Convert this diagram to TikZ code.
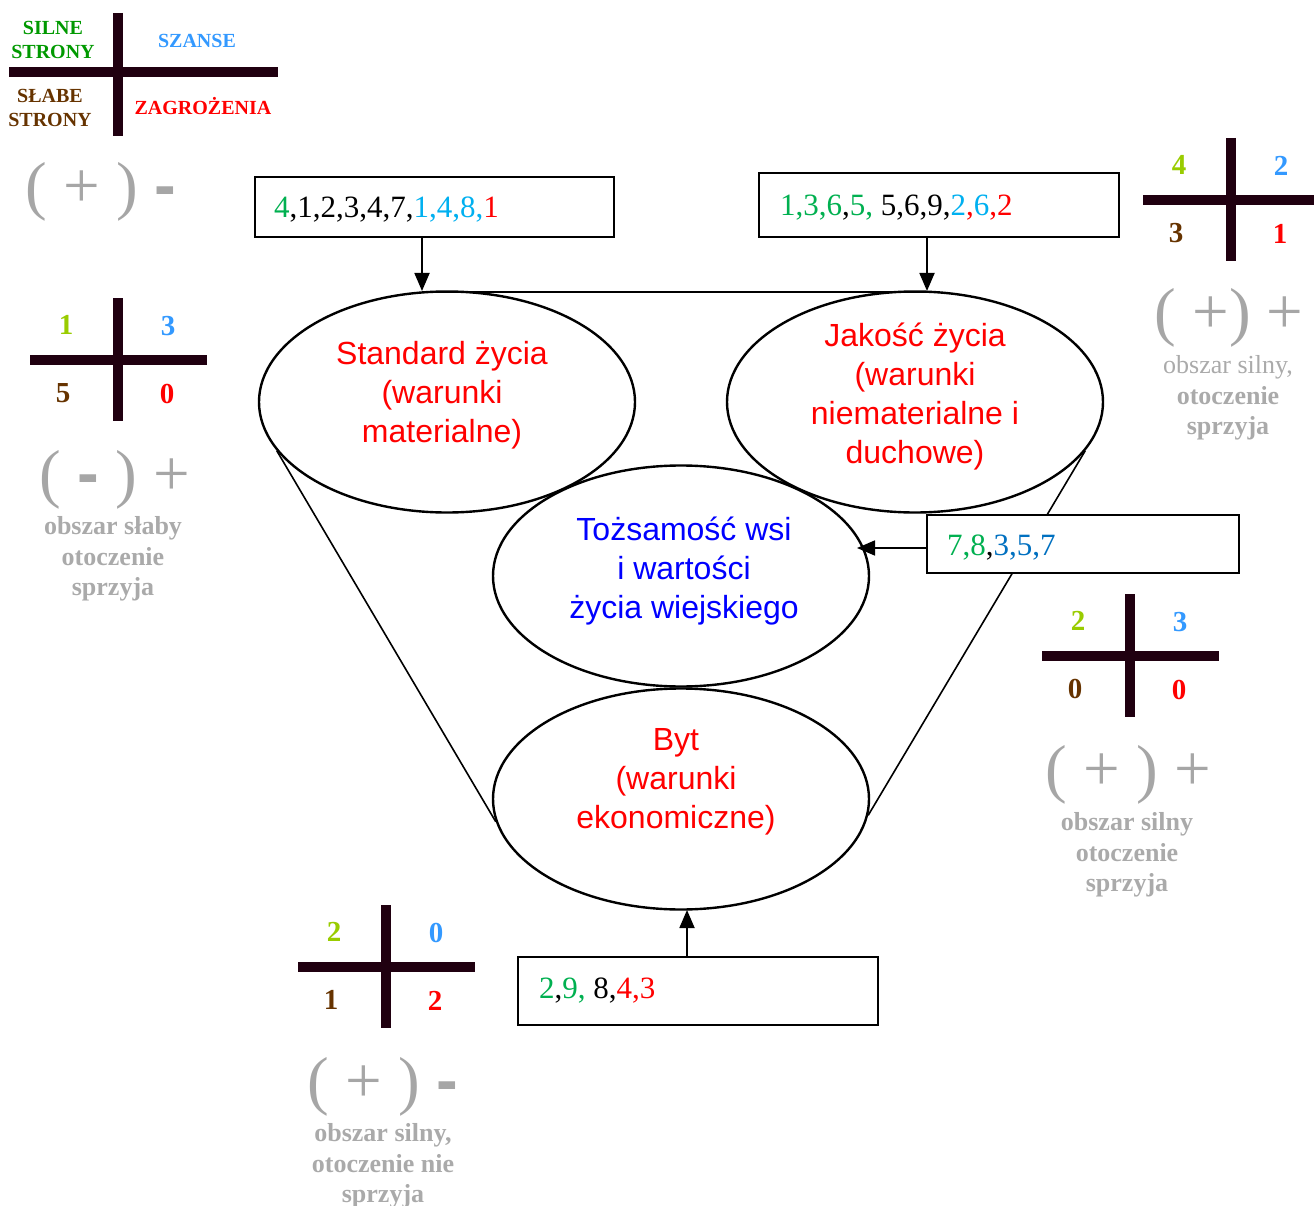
\documentclass[tikz,border=0pt]{standalone}
\usepackage{fontspec}
\setmainfont{Liberation Serif}
\newfontfamily\arialf{Liberation Sans}
\usetikzlibrary{shapes.geometric,arrows.meta,calc}

\definecolor{crossc}{RGB}{32,0,16}
\definecolor{lgreen}{RGB}{0,153,0}
\definecolor{sblue}{RGB}{51,153,255}
\definecolor{brownc}{RGB}{102,51,0}
\definecolor{ygreen}{RGB}{153,204,0}
\definecolor{numgreen}{RGB}{0,176,80}
\definecolor{numcyan}{RGB}{0,176,240}
\definecolor{numblue}{RGB}{0,112,192}
\definecolor{grayc}{RGB}{166,166,166}
\definecolor{graytxt}{RGB}{170,170,170}
\definecolor{ellred}{RGB}{255,0,0}
\definecolor{ellblue}{RGB}{0,0,255}

\tikzset{
  ell/.style={draw, ellipse, line width=2.4pt, minimum width=376pt, minimum height=221pt, inner sep=0pt},
  elltext/.style={align=center, inner sep=0pt, font=\arialf\fontsize{32}{39}\selectfont},
  numbox/.style={draw, line width=1.6pt, fill=white, inner sep=0pt},
  boxtext/.style={anchor=base west, inner sep=0pt, font=\fontsize{31}{31}\selectfont},
  arr/.style={line width=1.8pt, -{Triangle[length=18pt,width=15pt]}},
  funnel/.style={line width=1.6pt},
  crossline/.style={line width=10pt, draw=crossc},
  swnum/.style={inner sep=0pt, font=\fontsize{29}{29}\selectfont\bfseries},
  legtext/.style={inner sep=0pt, align=center, font=\fontsize{20}{24}\selectfont\bfseries},
  paren/.style={inner sep=0pt, text=grayc, font=\fontsize{65}{65}\selectfont},
  areatext/.style={inner sep=0pt, align=center, text=graytxt, font=\fontsize{26}{30.5}\selectfont}
}

\newcommand\swotcross[6]{%
  \coordinate (#1) at #2;
  \draw[crossline] (#1) ++(-88,0) -- ++(177,0);
  \draw[crossline] (#1) ++(0,-62) -- ++(0,123);
  \path (#1) ++(-52,-35) node[swnum, text=ygreen] (#1a) {#3};
  \path (#1) ++(50,-34) node[swnum, text=sblue] (#1b) {#4};
  \path (#1) ++(-55,33) node[swnum, text=brownc] (#1c) {#5};
  \path (#1) ++(49,34) node[swnum, text=red] (#1d) {#6};
}
\newcommand\minusmark{{\arialf\bfseries -}}

\begin{document}
\begin{tikzpicture}[x=1pt, y=-1pt]
\useasboundingbox (0,0) rectangle (1314,1206);

% legend cross
\draw[crossline] (9,72) -- (278,72);
\draw[crossline] (118,13) -- (118,136);
\node[legtext, text=lgreen] (legS) at (53,40) {SILNE\\STRONY};
\node[legtext, text=sblue] (legO) at (197,41) {SZANSE};
\node[legtext, text=brownc] (legW) at (50,108) {SŁABE\\STRONY};
\node[legtext, text=red] (legT) at (203,106) {ZAGROŻENIA};
\node[paren] (p0) at (101,192) {( + ) \minusmark};

% ellipses
\node[ell] (std) at (447,402) {};
\node[ell] (jak) at (915,402) {};
\node[ell] (toz) at (681,576) {};
\node[ell] (byt) at (681,799) {};

\node[elltext, text=ellred] (stdT) at (442,395) {Standard życia\\(warunki\\materialne)};
\node[elltext, text=ellred] (jakT) at (915,397) {Jakość życia\\(warunki\\niematerialne i\\duchowe)};
\node[elltext, text=ellblue] (tozT) at (684,571) {Tożsamość wsi\\i wartości\\życia wiejskiego};
\node[elltext, text=ellred] (bytT) at (676,782) {Byt\\(warunki\\ekonomiczne)};

% top line and funnel
\coordinate (tl) at (422,292);
\coordinate (tr) at (940,292);
\draw[line width=2.4pt] (tl) -- (tr);
\draw[funnel] (std.196) -- (byt.187);
\draw[funnel] (jak.344) -- (byt.355);

% number boxes
\node[numbox, minimum width=359pt, minimum height=60pt] (b1) at (434.5,207) {};
\node[numbox, minimum width=360pt, minimum height=64pt] (b2) at (939,205) {};
\node[numbox, minimum width=312pt, minimum height=58pt] (b3) at (1083,544) {};
\node[numbox, minimum width=360pt, minimum height=68pt] (b4) at (698,991) {};

\node[boxtext] (b1t) at (274,218) {\textcolor{numgreen}{4},1,2,3,4,7,\textcolor{numcyan}{1,4,8,}\textcolor{red}{1}};
\node[boxtext] (b2t) at (780,216) {\textcolor{numgreen}{1,3,6},\textcolor{numgreen}{5,} 5,6,9,\textcolor{numcyan}{2}\textcolor{red}{,}\textcolor{numcyan}{6}\textcolor{red}{,2}};
\node[boxtext] (b3t) at (947,555) {\textcolor{numgreen}{7,8},\textcolor{numblue}{3,5,7}};
\node[boxtext] (b4t) at (539,998) {\textcolor{numgreen}{2},\textcolor{numgreen}{9,} 8,\textcolor{red}{4,3}};

% arrows
\coordinate (a1) at (422,291);
\coordinate (a2) at (927,291);
\coordinate (a3) at (857,548);
\coordinate (a4) at (687,910);
\draw[arr] (b1.south -| a1) -- (a1);
\draw[arr] (b2.south -| a2) -- (a2);
\draw[arr] (b3.west |- a3) -- (a3);
\draw[arr] (b4.north -| a4) -- (a4);

% SWOT crosses
\swotcross{cL}{(118,360)}{1}{3}{5}{0}
\node[paren] (pL) at (115,480) {( \minusmark\ ) +};
\node[areatext, font=\fontsize{26}{30.5}\selectfont\bfseries] (tL) at (113,559) {obszar słaby\\otoczenie\\sprzyja};

\swotcross{cR}{(1231,200)}{4}{2}{3}{1}
\node[paren] (pR) at (1229,318) {( +) +};
\node[areatext] (tR) at (1228,398) {obszar silny,\\\textbf{otoczenie}\\\textbf{sprzyja}};

\swotcross{cM}{(1130,656)}{2}{3}{0}{0}
\node[paren] (pM) at (1128,775) {( + ) +};
\node[areatext, font=\fontsize{26}{30.5}\selectfont\bfseries] (tM) at (1127,855) {obszar silny\\otoczenie\\sprzyja};

\swotcross{cB}{(386,967)}{2}{0}{1}{2}
\node[paren] (pB) at (383,1087) {( + ) \minusmark};
\node[areatext, font=\fontsize{26}{30.5}\selectfont\bfseries] (tB) at (383,1166) {obszar silny,\\otoczenie nie\\sprzyja};
\end{tikzpicture}
\end{document}
